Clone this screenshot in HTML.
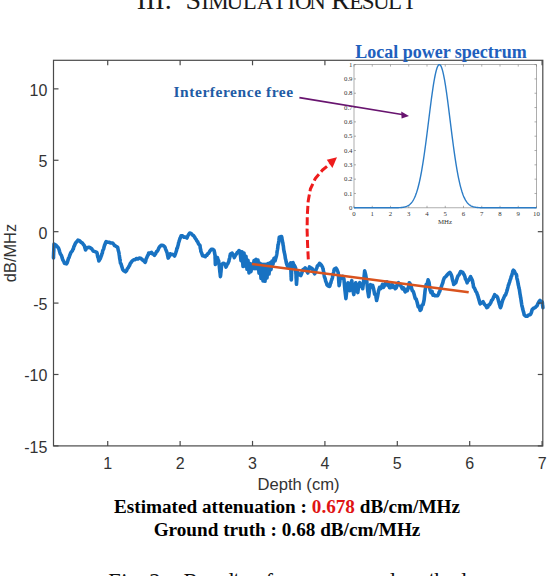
<!DOCTYPE html>
<html><head><meta charset="utf-8"><style>
html,body{margin:0;padding:0;background:#fff;}
body{width:556px;height:576px;position:relative;overflow:hidden;}
.t{position:absolute;white-space:nowrap;font-family:"Liberation Serif",serif;}
</style></head><body>

<svg width="556" height="576" style="position:absolute;left:0;top:0">
<path d="M53.5,258.0 L53.5,256.4 L53.6,254.7 L53.6,254.0 L53.7,251.8 L53.8,251.1 L53.8,249.4 L53.9,247.6 L53.9,246.8 L54.0,244.8 L54.0,244.0 L55.8,245.0 L56.8,246.1 L57.9,247.3 L58.5,248.1 L59.1,249.6 L59.6,251.5 L60.2,253.5 L60.8,254.5 L61.3,255.2 L61.8,256.6 L62.3,258.4 L62.9,260.1 L63.4,260.8 L63.9,261.8 L64.4,263.2 L66.5,263.9 L67.2,262.8 L68.0,260.3 L68.5,258.2 L69.0,257.9 L69.6,255.7 L70.1,254.5 L70.8,252.8 L71.6,251.6 L72.3,251.0 L72.8,249.5 L73.3,249.0 L73.8,246.9 L74.2,246.2 L74.7,245.1 L75.2,243.7 L76.1,242.3 L77.1,241.4 L78.0,240.1 L79.5,240.6 L81.0,242.3 L82.2,242.9 L83.3,244.3 L84.5,245.9 L84.8,247.5 L85.2,248.5 L85.5,250.0 L86.7,248.0 L88.8,247.3 L90.2,247.8 L91.7,248.8 L92.5,250.0 L93.2,251.0 L95.0,251.6 L96.8,252.4 L97.2,253.6 L97.5,255.7 L97.8,257.0 L98.2,257.8 L98.6,259.7 L98.9,261.0 L99.6,259.6 L100.3,258.7 L101.0,256.7 L101.4,255.7 L101.9,253.7 L102.3,253.3 L102.7,250.8 L103.1,249.9 L103.6,249.0 L104.0,247.3 L104.5,245.4 L105.0,244.4 L105.6,242.4 L106.1,241.6 L107.5,242.2 L109.0,242.3 L110.8,243.0 L112.6,243.0 L113.6,244.1 L114.5,245.5 L115.5,245.9 L117.6,247.3 L117.9,248.5 L118.3,250.5 L118.7,251.8 L119.0,253.1 L119.2,254.7 L119.4,255.9 L119.6,257.9 L119.9,259.5 L120.1,260.3 L120.3,262.0 L120.5,263.2 L121.1,264.0 L121.7,266.4 L122.2,267.7 L122.8,269.7 L123.4,270.4 L125.5,271.8 L126.5,270.8 L127.4,268.6 L128.4,267.5 L129.0,266.2 L129.6,265.4 L130.3,263.4 L130.9,262.8 L131.5,261.7 L132.7,260.5 L133.9,259.8 L135.1,259.6 L136.5,258.5 L138.0,259.0 L139.4,258.1 L140.6,258.3 L141.8,259.2 L143.0,260.3 L144.1,261.2 L145.1,262.4 L145.6,261.5 L146.1,258.9 L146.6,258.1 L147.1,256.8 L147.6,255.7 L148.2,254.9 L148.7,253.1 L150.1,253.2 L151.6,252.4 L152.6,253.9 L153.5,254.0 L154.5,255.3 L155.2,254.1 L155.9,253.1 L156.6,251.6 L157.4,251.1 L158.1,249.9 L158.8,248.0 L159.8,246.6 L160.7,245.7 L161.7,245.2 L163.1,245.5 L164.6,246.6 L165.1,247.5 L165.6,249.1 L166.2,250.5 L166.7,251.7 L167.0,252.6 L167.3,253.6 L167.6,255.4 L167.9,256.6 L168.2,258.1 L168.9,256.8 L169.6,255.9 L170.3,253.8 L171.8,254.4 L173.2,254.5 L174.6,256.0 L175.1,254.6 L175.6,253.3 L176.1,251.7 L176.5,250.7 L176.8,248.6 L177.2,248.5 L177.6,247.0 L177.9,245.9 L178.3,244.5 L178.6,242.7 L179.0,241.6 L179.5,240.0 L180.1,238.1 L180.6,237.4 L181.1,235.8 L182.6,235.9 L184.0,237.3 L185.4,237.0 L186.9,238.0 L187.6,236.3 L188.3,235.0 L189.0,234.0 L189.7,233.0 L191.1,233.4 L192.6,235.1 L193.6,235.6 L194.5,237.0 L195.5,238.7 L196.2,239.4 L196.9,241.0 L197.7,241.8 L198.4,243.7 L200.0,245.4 L200.2,247.4 L200.4,248.6 L200.7,249.5 L200.9,251.5 L201.5,252.6 L202.0,254.2 L202.6,255.8 L203.9,256.1 L205.2,256.7 L206.1,255.2 L206.9,255.2 L207.8,253.7 L208.7,253.3 L209.6,251.5 L210.4,250.4 L211.3,249.3 L212.6,249.2 L213.9,250.2 L214.3,251.2 L214.6,253.2 L215.0,255.0 L215.1,256.0 L215.1,258.2 L215.2,258.6 L215.2,259.8 L215.3,262.4 L215.3,263.2 L215.4,264.5 L215.8,262.6 L216.2,261.8 L216.6,259.7 L217.0,259.0 L217.4,257.6 L218.1,260.0 L218.7,261.0 L218.8,262.8 L219.0,263.9 L219.1,264.6 L219.3,266.0 L219.4,267.0 L219.6,269.2 L219.7,270.1 L219.8,271.8 L220.0,272.5 L220.1,273.6 L220.3,275.7 L220.4,276.6 L220.5,275.9 L220.7,274.4 L220.8,273.0 L221.0,271.7 L221.1,270.2 L221.3,268.2 L221.4,267.2 L221.6,265.6 L221.7,264.5 L223.0,263.4 L224.3,263.6 L225.2,264.7 L226.0,267.1 L226.7,265.5 L227.3,264.2 L227.9,263.5 L228.6,261.9 L228.9,261.2 L229.2,259.2 L229.5,258.6 L229.8,257.4 L230.1,256.0 L230.4,254.1 L232.1,253.2 L232.8,254.5 L233.6,255.7 L234.3,257.6 L235.0,256.1 L235.7,254.8 L236.4,254.1 L237.3,252.5 L238.1,251.9 L239.0,250.6 L240.0,251.3 L241.0,260.6 L242.0,251.8 L243.0,266.5 L244.0,253.0 L245.0,266.0 L246.0,256.4 L247.0,269.3 L248.0,260.4 L249.0,272.9 L250.0,263.5 L251.0,271.6 L252.0,264.0 L253.0,268.6 L254.0,260.6 L255.0,268.6 L256.0,259.2 L257.0,268.6 L258.0,260.1 L259.0,273.1 L260.0,263.2 L261.0,278.4 L262.0,264.4 L263.0,280.9 L264.0,264.4 L265.0,281.3 L266.0,264.4 L267.0,277.9 L268.0,263.6 L269.0,274.0 L270.0,262.8 L271.0,269.6 L272.0,261.0 L273.0,264.2 L274.0,258.2 L275.0,260.9 L276.4,256.0 L276.6,255.1 L276.9,253.5 L277.1,251.5 L277.4,250.0 L277.6,248.8 L277.8,247.6 L278.0,245.2 L278.2,244.6 L278.5,243.5 L278.7,241.9 L278.9,240.5 L279.1,238.7 L279.3,237.3 L281.5,236.5 L281.8,237.3 L282.1,239.5 L282.3,240.2 L282.6,242.1 L282.9,243.0 L283.1,245.1 L283.3,245.8 L283.5,247.3 L283.7,249.5 L283.9,250.4 L284.2,252.1 L284.4,252.8 L284.7,254.1 L285.0,255.6 L285.3,258.0 L285.6,259.3 L285.8,259.8 L286.1,261.7 L286.5,263.5 L287.0,265.0 L287.4,265.8 L287.8,266.9 L288.6,265.4 L289.5,264.3 L290.6,263.0 L290.7,264.4 L290.7,265.1 L290.8,266.2 L290.8,268.9 L290.9,269.7 L290.9,270.8 L291.0,272.7 L291.0,273.3 L291.1,275.2 L291.1,276.5 L291.2,276.9 L291.2,278.3 L291.3,279.9 L291.4,278.3 L291.4,276.9 L291.5,276.1 L291.5,274.4 L291.6,273.3 L291.6,271.6 L291.7,271.4 L291.7,269.3 L291.8,268.1 L291.8,267.0 L291.9,266.2 L291.9,264.2 L292.0,263.0 L293.0,262.6 L293.6,264.5 L294.3,265.2 L295.0,266.6 L295.6,268.0 L295.7,269.4 L295.8,270.7 L295.8,271.4 L295.9,273.3 L296.0,274.3 L296.1,275.5 L296.1,277.9 L296.2,278.4 L296.3,280.2 L296.4,281.9 L296.4,283.0 L296.5,284.3 L296.6,282.7 L296.7,281.6 L296.8,280.3 L296.9,279.2 L296.9,276.9 L297.0,276.2 L297.1,274.4 L297.2,273.1 L297.3,272.0 L298.2,273.0 L299.5,274.7 L300.8,275.6 L301.4,274.1 L301.9,272.6 L302.4,271.4 L303.0,269.5 L304.1,269.2 L305.2,267.8 L305.9,269.0 L306.5,270.6 L307.1,271.7 L307.8,273.0 L308.2,271.5 L308.6,270.2 L309.1,268.4 L309.5,266.9 L310.8,267.8 L312.1,268.6 L312.8,269.9 L313.4,271.8 L314.1,272.8 L314.7,273.8 L315.1,273.0 L315.6,271.8 L316.0,269.6 L316.4,268.7 L316.9,267.9 L317.3,266.0 L318.4,265.2 L319.5,263.4 L320.5,264.2 L321.6,265.5 L322.6,267.4 L322.9,268.6 L323.2,269.4 L323.4,270.9 L323.7,272.0 L324.0,274.1 L324.2,275.6 L324.5,277.1 L324.8,277.8 L325.2,278.7 L325.6,280.9 L326.1,282.2 L326.5,282.8 L326.9,284.7 L328.2,286.1 L329.5,286.4 L329.9,285.8 L330.4,283.4 L330.8,283.1 L331.2,281.1 L331.7,279.9 L332.1,278.6 L332.4,277.9 L332.7,276.4 L333.0,274.1 L333.4,273.1 L333.7,271.8 L334.0,270.2 L334.3,269.1 L336.1,268.2 L336.8,269.2 L337.5,270.9 L338.2,272.6 L338.3,274.2 L338.4,274.5 L338.5,276.6 L338.6,277.7 L338.6,278.4 L338.7,280.2 L338.8,281.9 L338.9,283.0 L339.0,283.7 L339.1,285.6 L339.3,284.8 L339.5,283.1 L339.8,281.9 L340.0,279.2 L340.2,278.0 L340.4,276.9 L341.0,276.8 L342.0,278.2 L342.9,276.3 L343.9,278.8 L344.9,289.8 L345.9,298.6 L346.9,289.8 L347.9,282.7 L348.9,288.0 L349.9,290.6 L350.9,283.6 L351.8,280.7 L352.8,289.6 L353.8,294.6 L354.8,287.6 L355.8,282.7 L356.8,288.5 L357.8,292.6 L358.8,285.6 L359.8,282.7 L360.8,286.2 L361.7,285.0 L362.7,288.7 L363.7,280.5 L364.7,270.8 L365.7,275.0 L366.7,280.7 L367.7,290.4 L368.7,296.6 L369.6,289.3 L370.6,284.7 L371.6,286.8 L372.6,285.3 L373.6,288.7 L374.6,294.3 L375.6,294.7 L376.6,300.5 L377.6,296.3 L378.6,290.6 L379.6,287.3 L380.5,288.8 L381.5,286.7 L382.5,284.4 L383.5,287.4 L384.5,285.7 L385.7,282.6 L386.9,281.8 L387.8,285.3 L388.6,283.6 L389.5,287.7 L390.5,287.8 L391.4,284.8 L392.4,284.7 L393.4,287.5 L394.4,286.3 L395.4,288.7 L396.4,287.5 L397.4,283.8 L398.4,282.7 L399.4,284.8 L400.3,284.4 L401.3,286.7 L402.3,288.8 L403.3,287.6 L404.3,289.7 L405.3,291.9 L406.3,289.3 L407.3,290.7 L408.3,288.1 L409.3,282.7 L410.2,283.8 L411.2,286.7 L412.2,290.5 L413.2,291.3 L414.2,294.6 L415.2,298.3 L416.2,299.2 L417.2,302.5 L418.2,306.9 L419.1,306.3 L420.1,310.4 L421.1,309.4 L422.1,305.1 L423.1,304.5 L424.1,300.0 L425.1,290.5 L426.1,284.7 L427.1,284.2 L428.1,279.8 L429.1,282.7 L430.0,289.8 L431.0,292.6 L432.0,291.3 L433.0,295.2 L434.0,294.6 L435.0,295.8 L436.3,295.8 L437.6,295.8 L438.1,294.8 L438.6,294.0 L439.2,291.9 L439.7,291.4 L440.2,289.7 L440.7,288.6 L441.2,287.1 L441.8,285.4 L442.3,284.0 L442.8,282.8 L443.2,280.9 L443.6,279.7 L444.1,278.3 L444.5,277.6 L445.8,276.6 L447.1,275.0 L448.5,273.4 L449.8,272.4 L450.5,273.4 L451.2,274.7 L451.9,276.7 L452.2,278.5 L452.5,279.8 L452.8,280.8 L453.1,281.6 L453.4,282.8 L453.7,284.5 L454.8,283.4 L455.8,282.8 L456.2,281.3 L456.7,279.5 L457.1,278.5 L457.6,276.9 L458.0,275.8 L458.9,275.0 L459.7,273.6 L460.6,271.5 L462.8,272.4 L463.5,273.9 L464.2,274.9 L464.9,276.7 L465.4,278.9 L466.0,279.5 L466.6,281.1 L467.1,282.8 L468.0,280.8 L468.8,280.2 L469.4,278.9 L470.0,277.8 L470.6,276.7 L471.5,278.5 L472.3,280.2 L472.6,281.2 L472.8,283.0 L473.1,283.6 L473.3,285.4 L473.6,287.1 L474.5,288.2 L475.4,290.4 L476.0,291.6 L476.7,292.5 L477.3,294.5 L477.7,295.2 L478.1,296.9 L478.5,298.1 L479.0,299.9 L479.4,301.2 L479.8,302.8 L480.2,303.8 L481.6,303.0 L483.1,301.7 L483.8,303.2 L484.6,304.6 L485.3,305.1 L486.1,306.2 L486.8,307.6 L487.7,307.2 L488.6,305.0 L489.5,304.7 L490.4,303.3 L491.0,302.3 L491.6,300.2 L492.2,300.1 L492.9,298.9 L493.5,297.3 L494.1,296.3 L494.7,294.7 L495.7,296.1 L496.6,296.1 L497.6,297.6 L498.0,298.9 L498.3,300.1 L498.7,301.8 L499.1,303.0 L499.4,304.3 L499.8,305.2 L500.1,306.9 L500.5,307.6 L501.0,306.4 L501.4,305.0 L501.9,302.9 L502.4,301.2 L502.8,299.9 L503.3,299.0 L504.0,297.4 L504.8,295.5 L505.5,295.1 L506.2,293.2 L506.6,292.0 L506.9,290.9 L507.3,289.6 L507.6,288.5 L508.0,286.9 L508.4,285.0 L508.7,284.9 L509.1,283.2 L509.5,282.3 L509.9,280.7 L510.3,279.5 L510.8,278.5 L511.2,276.4 L511.6,276.1 L512.0,274.5 L512.5,272.7 L512.9,271.0 L513.4,270.2 L514.4,271.3 L515.3,273.4 L516.3,274.5 L516.6,275.4 L516.8,277.5 L517.1,279.1 L517.4,279.7 L517.6,280.9 L517.9,282.3 L518.1,283.9 L518.4,285.3 L518.7,286.4 L518.9,287.8 L519.2,288.9 L519.4,289.6 L519.6,291.1 L519.8,292.5 L520.1,294.6 L520.3,295.3 L520.5,297.0 L520.7,297.5 L520.9,298.9 L521.1,300.6 L521.4,302.4 L521.6,303.8 L521.8,305.1 L522.0,306.2 L522.4,307.3 L522.7,309.1 L523.1,310.5 L523.5,311.9 L523.8,312.8 L524.2,314.8 L525.7,316.1 L527.1,316.3 L528.5,315.1 L530.0,314.8 L530.7,314.0 L531.4,312.5 L532.1,309.8 L532.8,309.0 L534.0,308.0 L535.2,307.6 L536.4,306.2 L537.1,305.7 L537.8,303.8 L538.6,302.4 L539.3,301.2 L540.0,300.4 L541.1,301.8 L542.2,301.9 L542.4,302.9 L542.5,304.9 L542.7,305.7 L542.9,307.6" fill="none" stroke="#1872c2" stroke-width="3.6" stroke-linejoin="round" stroke-linecap="round"/>
<line x1="251.9" y1="264" x2="468.7" y2="292.3" stroke="#d9531e" stroke-width="2.6"/>
<rect x="53.5" y="60.3" width="489.29999999999995" height="385.59999999999997" fill="none" stroke="#4a4a4a" stroke-width="1.2"/>
<line x1="107.72" y1="445.9" x2="107.72" y2="440.9" stroke="#4a4a4a" stroke-width="1.2"/>
<line x1="107.72" y1="60.3" x2="107.72" y2="65.3" stroke="#4a4a4a" stroke-width="1.2"/>
<line x1="180.12" y1="445.9" x2="180.12" y2="440.9" stroke="#4a4a4a" stroke-width="1.2"/>
<line x1="180.12" y1="60.3" x2="180.12" y2="65.3" stroke="#4a4a4a" stroke-width="1.2"/>
<line x1="252.52" y1="445.9" x2="252.52" y2="440.9" stroke="#4a4a4a" stroke-width="1.2"/>
<line x1="252.52" y1="60.3" x2="252.52" y2="65.3" stroke="#4a4a4a" stroke-width="1.2"/>
<line x1="324.91" y1="445.9" x2="324.91" y2="440.9" stroke="#4a4a4a" stroke-width="1.2"/>
<line x1="324.91" y1="60.3" x2="324.91" y2="65.3" stroke="#4a4a4a" stroke-width="1.2"/>
<line x1="397.31" y1="445.9" x2="397.31" y2="440.9" stroke="#4a4a4a" stroke-width="1.2"/>
<line x1="469.70" y1="445.9" x2="469.70" y2="440.9" stroke="#4a4a4a" stroke-width="1.2"/>
<line x1="542.10" y1="445.9" x2="542.10" y2="440.9" stroke="#4a4a4a" stroke-width="1.2"/>
<line x1="542.10" y1="60.3" x2="542.10" y2="65.3" stroke="#4a4a4a" stroke-width="1.2"/>
<line x1="53.5" y1="445.90" x2="58.5" y2="445.90" stroke="#4a4a4a" stroke-width="1.2"/>
<line x1="542.8" y1="445.90" x2="537.8" y2="445.90" stroke="#4a4a4a" stroke-width="1.2"/>
<line x1="53.5" y1="374.49" x2="58.5" y2="374.49" stroke="#4a4a4a" stroke-width="1.2"/>
<line x1="542.8" y1="374.49" x2="537.8" y2="374.49" stroke="#4a4a4a" stroke-width="1.2"/>
<line x1="53.5" y1="303.09" x2="58.5" y2="303.09" stroke="#4a4a4a" stroke-width="1.2"/>
<line x1="542.8" y1="303.09" x2="537.8" y2="303.09" stroke="#4a4a4a" stroke-width="1.2"/>
<line x1="53.5" y1="231.68" x2="58.5" y2="231.68" stroke="#4a4a4a" stroke-width="1.2"/>
<line x1="542.8" y1="231.68" x2="537.8" y2="231.68" stroke="#4a4a4a" stroke-width="1.2"/>
<line x1="53.5" y1="160.27" x2="58.5" y2="160.27" stroke="#4a4a4a" stroke-width="1.2"/>
<line x1="53.5" y1="88.86" x2="58.5" y2="88.86" stroke="#4a4a4a" stroke-width="1.2"/>
<text x="107.72" y="468.5" font-family="Liberation Sans, sans-serif" font-size="16" fill="#333" text-anchor="middle">1</text>
<text x="180.12" y="468.5" font-family="Liberation Sans, sans-serif" font-size="16" fill="#333" text-anchor="middle">2</text>
<text x="252.52" y="468.5" font-family="Liberation Sans, sans-serif" font-size="16" fill="#333" text-anchor="middle">3</text>
<text x="324.91" y="468.5" font-family="Liberation Sans, sans-serif" font-size="16" fill="#333" text-anchor="middle">4</text>
<text x="397.31" y="468.5" font-family="Liberation Sans, sans-serif" font-size="16" fill="#333" text-anchor="middle">5</text>
<text x="469.70" y="468.5" font-family="Liberation Sans, sans-serif" font-size="16" fill="#333" text-anchor="middle">6</text>
<text x="542.10" y="468.5" font-family="Liberation Sans, sans-serif" font-size="16" fill="#333" text-anchor="middle">7</text>
<text x="47.4" y="452.90" font-family="Liberation Sans, sans-serif" font-size="16" fill="#333" text-anchor="end">-15</text>
<text x="47.4" y="381.49" font-family="Liberation Sans, sans-serif" font-size="16" fill="#333" text-anchor="end">-10</text>
<text x="47.4" y="310.09" font-family="Liberation Sans, sans-serif" font-size="16" fill="#333" text-anchor="end">-5</text>
<text x="47.4" y="238.68" font-family="Liberation Sans, sans-serif" font-size="16" fill="#333" text-anchor="end">0</text>
<text x="47.4" y="167.27" font-family="Liberation Sans, sans-serif" font-size="16" fill="#333" text-anchor="end">5</text>
<text x="47.4" y="95.86" font-family="Liberation Sans, sans-serif" font-size="16" fill="#333" text-anchor="end">10</text>
<text x="298.5" y="489.8" font-family="Liberation Sans, sans-serif" font-size="16.6" fill="#333" text-anchor="middle">Depth (cm)</text>
<text transform="translate(15.6,253) rotate(-90)" x="0" y="0" font-family="Liberation Sans, sans-serif" font-size="16.4" fill="#333" text-anchor="middle">dB/MHz</text>
<rect x="354.0" y="64.6" width="182.5" height="143.20000000000002" fill="#fff" stroke="#9a9a9a" stroke-width="0.8"/>
<line x1="354.00" y1="207.8" x2="354.00" y2="205.8" stroke="#777" stroke-width="0.6"/>
<line x1="354.00" y1="64.6" x2="354.00" y2="66.6" stroke="#777" stroke-width="0.6"/>
<text x="354.00" y="216.4" font-family="Liberation Serif, serif" font-size="6.8" fill="#333" text-anchor="middle">0</text>
<line x1="372.25" y1="207.8" x2="372.25" y2="205.8" stroke="#777" stroke-width="0.6"/>
<line x1="372.25" y1="64.6" x2="372.25" y2="66.6" stroke="#777" stroke-width="0.6"/>
<text x="372.25" y="216.4" font-family="Liberation Serif, serif" font-size="6.8" fill="#333" text-anchor="middle">1</text>
<line x1="390.50" y1="207.8" x2="390.50" y2="205.8" stroke="#777" stroke-width="0.6"/>
<line x1="390.50" y1="64.6" x2="390.50" y2="66.6" stroke="#777" stroke-width="0.6"/>
<text x="390.50" y="216.4" font-family="Liberation Serif, serif" font-size="6.8" fill="#333" text-anchor="middle">2</text>
<line x1="408.75" y1="207.8" x2="408.75" y2="205.8" stroke="#777" stroke-width="0.6"/>
<line x1="408.75" y1="64.6" x2="408.75" y2="66.6" stroke="#777" stroke-width="0.6"/>
<text x="408.75" y="216.4" font-family="Liberation Serif, serif" font-size="6.8" fill="#333" text-anchor="middle">3</text>
<line x1="427.00" y1="207.8" x2="427.00" y2="205.8" stroke="#777" stroke-width="0.6"/>
<line x1="427.00" y1="64.6" x2="427.00" y2="66.6" stroke="#777" stroke-width="0.6"/>
<text x="427.00" y="216.4" font-family="Liberation Serif, serif" font-size="6.8" fill="#333" text-anchor="middle">4</text>
<line x1="445.25" y1="207.8" x2="445.25" y2="205.8" stroke="#777" stroke-width="0.6"/>
<line x1="445.25" y1="64.6" x2="445.25" y2="66.6" stroke="#777" stroke-width="0.6"/>
<text x="445.25" y="216.4" font-family="Liberation Serif, serif" font-size="6.8" fill="#333" text-anchor="middle">5</text>
<line x1="463.50" y1="207.8" x2="463.50" y2="205.8" stroke="#777" stroke-width="0.6"/>
<line x1="463.50" y1="64.6" x2="463.50" y2="66.6" stroke="#777" stroke-width="0.6"/>
<text x="463.50" y="216.4" font-family="Liberation Serif, serif" font-size="6.8" fill="#333" text-anchor="middle">6</text>
<line x1="481.75" y1="207.8" x2="481.75" y2="205.8" stroke="#777" stroke-width="0.6"/>
<line x1="481.75" y1="64.6" x2="481.75" y2="66.6" stroke="#777" stroke-width="0.6"/>
<text x="481.75" y="216.4" font-family="Liberation Serif, serif" font-size="6.8" fill="#333" text-anchor="middle">7</text>
<line x1="500.00" y1="207.8" x2="500.00" y2="205.8" stroke="#777" stroke-width="0.6"/>
<line x1="500.00" y1="64.6" x2="500.00" y2="66.6" stroke="#777" stroke-width="0.6"/>
<text x="500.00" y="216.4" font-family="Liberation Serif, serif" font-size="6.8" fill="#333" text-anchor="middle">8</text>
<line x1="518.25" y1="207.8" x2="518.25" y2="205.8" stroke="#777" stroke-width="0.6"/>
<line x1="518.25" y1="64.6" x2="518.25" y2="66.6" stroke="#777" stroke-width="0.6"/>
<text x="518.25" y="216.4" font-family="Liberation Serif, serif" font-size="6.8" fill="#333" text-anchor="middle">9</text>
<line x1="536.50" y1="207.8" x2="536.50" y2="205.8" stroke="#777" stroke-width="0.6"/>
<line x1="536.50" y1="64.6" x2="536.50" y2="66.6" stroke="#777" stroke-width="0.6"/>
<text x="536.50" y="216.4" font-family="Liberation Serif, serif" font-size="6.8" fill="#333" text-anchor="middle">10</text>
<line x1="354.0" y1="207.80" x2="356.0" y2="207.80" stroke="#777" stroke-width="0.6"/>
<line x1="536.5" y1="207.80" x2="534.5" y2="207.80" stroke="#777" stroke-width="0.6"/>
<text x="352.5" y="210.00" font-family="Liberation Serif, serif" font-size="6.8" fill="#333" text-anchor="end">0</text>
<line x1="354.0" y1="193.48" x2="356.0" y2="193.48" stroke="#777" stroke-width="0.6"/>
<line x1="536.5" y1="193.48" x2="534.5" y2="193.48" stroke="#777" stroke-width="0.6"/>
<text x="352.5" y="195.68" font-family="Liberation Serif, serif" font-size="6.8" fill="#333" text-anchor="end">0.1</text>
<line x1="354.0" y1="179.16" x2="356.0" y2="179.16" stroke="#777" stroke-width="0.6"/>
<line x1="536.5" y1="179.16" x2="534.5" y2="179.16" stroke="#777" stroke-width="0.6"/>
<text x="352.5" y="181.36" font-family="Liberation Serif, serif" font-size="6.8" fill="#333" text-anchor="end">0.2</text>
<line x1="354.0" y1="164.84" x2="356.0" y2="164.84" stroke="#777" stroke-width="0.6"/>
<line x1="536.5" y1="164.84" x2="534.5" y2="164.84" stroke="#777" stroke-width="0.6"/>
<text x="352.5" y="167.04" font-family="Liberation Serif, serif" font-size="6.8" fill="#333" text-anchor="end">0.3</text>
<line x1="354.0" y1="150.52" x2="356.0" y2="150.52" stroke="#777" stroke-width="0.6"/>
<line x1="536.5" y1="150.52" x2="534.5" y2="150.52" stroke="#777" stroke-width="0.6"/>
<text x="352.5" y="152.72" font-family="Liberation Serif, serif" font-size="6.8" fill="#333" text-anchor="end">0.4</text>
<line x1="354.0" y1="136.20" x2="356.0" y2="136.20" stroke="#777" stroke-width="0.6"/>
<line x1="536.5" y1="136.20" x2="534.5" y2="136.20" stroke="#777" stroke-width="0.6"/>
<text x="352.5" y="138.40" font-family="Liberation Serif, serif" font-size="6.8" fill="#333" text-anchor="end">0.5</text>
<line x1="354.0" y1="121.88" x2="356.0" y2="121.88" stroke="#777" stroke-width="0.6"/>
<line x1="536.5" y1="121.88" x2="534.5" y2="121.88" stroke="#777" stroke-width="0.6"/>
<text x="352.5" y="124.08" font-family="Liberation Serif, serif" font-size="6.8" fill="#333" text-anchor="end">0.6</text>
<line x1="354.0" y1="107.56" x2="356.0" y2="107.56" stroke="#777" stroke-width="0.6"/>
<line x1="536.5" y1="107.56" x2="534.5" y2="107.56" stroke="#777" stroke-width="0.6"/>
<text x="352.5" y="109.76" font-family="Liberation Serif, serif" font-size="6.8" fill="#333" text-anchor="end">0.7</text>
<line x1="354.0" y1="93.24" x2="356.0" y2="93.24" stroke="#777" stroke-width="0.6"/>
<line x1="536.5" y1="93.24" x2="534.5" y2="93.24" stroke="#777" stroke-width="0.6"/>
<text x="352.5" y="95.44" font-family="Liberation Serif, serif" font-size="6.8" fill="#333" text-anchor="end">0.8</text>
<line x1="354.0" y1="78.92" x2="356.0" y2="78.92" stroke="#777" stroke-width="0.6"/>
<line x1="536.5" y1="78.92" x2="534.5" y2="78.92" stroke="#777" stroke-width="0.6"/>
<text x="352.5" y="81.12" font-family="Liberation Serif, serif" font-size="6.8" fill="#333" text-anchor="end">0.9</text>
<line x1="354.0" y1="64.60" x2="356.0" y2="64.60" stroke="#777" stroke-width="0.6"/>
<line x1="536.5" y1="64.60" x2="534.5" y2="64.60" stroke="#777" stroke-width="0.6"/>
<text x="352.5" y="66.80" font-family="Liberation Serif, serif" font-size="6.8" fill="#333" text-anchor="end">1</text>
<text x="445" y="224" font-family="Liberation Serif, serif" font-size="6.8" fill="#333" text-anchor="middle">MHz</text>
<path d="M354.00,207.80 L354.50,207.80 L355.00,207.80 L355.50,207.80 L356.00,207.80 L356.50,207.80 L357.00,207.80 L357.50,207.80 L358.00,207.80 L358.50,207.80 L359.00,207.80 L359.50,207.80 L360.00,207.80 L360.50,207.80 L361.00,207.80 L361.50,207.80 L362.00,207.80 L362.50,207.80 L363.00,207.80 L363.50,207.80 L364.00,207.80 L364.50,207.80 L365.00,207.80 L365.50,207.80 L366.00,207.80 L366.50,207.80 L367.00,207.80 L367.50,207.80 L368.00,207.80 L368.50,207.80 L369.00,207.80 L369.50,207.80 L370.00,207.80 L370.50,207.80 L371.00,207.80 L371.50,207.80 L372.00,207.80 L372.50,207.80 L373.00,207.80 L373.50,207.80 L374.00,207.80 L374.50,207.80 L375.00,207.80 L375.50,207.80 L376.00,207.80 L376.50,207.80 L377.00,207.80 L377.50,207.80 L378.00,207.80 L378.50,207.80 L379.00,207.80 L379.50,207.80 L380.00,207.80 L380.50,207.80 L381.00,207.80 L381.50,207.80 L382.00,207.80 L382.50,207.80 L383.00,207.80 L383.50,207.80 L384.00,207.80 L384.50,207.80 L385.00,207.80 L385.50,207.80 L386.00,207.80 L386.50,207.80 L387.00,207.80 L387.50,207.80 L388.00,207.80 L388.50,207.80 L389.00,207.80 L389.50,207.80 L390.00,207.80 L390.50,207.79 L391.00,207.79 L391.50,207.79 L392.00,207.79 L392.50,207.79 L393.00,207.79 L393.50,207.78 L394.00,207.78 L394.50,207.77 L395.00,207.77 L395.50,207.76 L396.00,207.76 L396.50,207.75 L397.00,207.74 L397.50,207.72 L398.00,207.71 L398.50,207.69 L399.00,207.67 L399.50,207.64 L400.00,207.62 L400.50,207.58 L401.00,207.54 L401.50,207.50 L402.00,207.44 L402.50,207.38 L403.00,207.31 L403.50,207.23 L404.00,207.13 L404.50,207.03 L405.00,206.90 L405.50,206.76 L406.00,206.60 L406.50,206.42 L407.00,206.21 L407.50,205.97 L408.00,205.71 L408.50,205.41 L409.00,205.07 L409.50,204.70 L410.00,204.28 L410.50,203.81 L411.00,203.29 L411.50,202.71 L412.00,202.07 L412.50,201.36 L413.00,200.58 L413.50,199.73 L414.00,198.79 L414.50,197.76 L415.00,196.64 L415.50,195.43 L416.00,194.11 L416.50,192.68 L417.00,191.13 L417.50,189.47 L418.00,187.69 L418.50,185.78 L419.00,183.75 L419.50,181.58 L420.00,179.27 L420.50,176.83 L421.00,174.25 L421.50,171.54 L422.00,168.69 L422.50,165.71 L423.00,162.59 L423.50,159.35 L424.00,155.99 L424.50,152.51 L425.00,148.93 L425.50,145.25 L426.00,141.48 L426.50,137.63 L427.00,133.72 L427.50,129.76 L428.00,125.77 L428.50,121.75 L429.00,117.73 L429.50,113.72 L430.00,109.75 L430.50,105.83 L431.00,101.98 L431.50,98.21 L432.00,94.56 L432.50,91.04 L433.00,87.66 L433.50,84.45 L434.00,81.43 L434.50,78.61 L435.00,76.00 L435.50,73.64 L436.00,71.52 L436.50,69.67 L437.00,68.09 L437.50,66.80 L438.00,65.80 L438.50,65.10 L439.00,64.70 L439.50,64.61 L440.00,64.82 L440.50,65.34 L441.00,66.16 L441.50,67.28 L442.00,68.69 L442.50,70.38 L443.00,72.34 L443.50,74.56 L444.00,77.02 L444.50,79.71 L445.00,82.61 L445.50,85.71 L446.00,88.99 L446.50,92.43 L447.00,96.01 L447.50,99.71 L448.00,103.51 L448.50,107.39 L449.00,111.33 L449.50,115.32 L450.00,119.34 L450.50,123.36 L451.00,127.37 L451.50,131.35 L452.00,135.29 L452.50,139.18 L453.00,143.00 L453.50,146.73 L454.00,150.37 L454.50,153.92 L455.00,157.35 L455.50,160.66 L456.00,163.85 L456.50,166.91 L457.00,169.85 L457.50,172.64 L458.00,175.30 L458.50,177.82 L459.00,180.21 L459.50,182.46 L460.00,184.58 L460.50,186.56 L461.00,188.42 L461.50,190.15 L462.00,191.77 L462.50,193.26 L463.00,194.65 L463.50,195.92 L464.00,197.10 L464.50,198.18 L465.00,199.17 L465.50,200.08 L466.00,200.90 L466.50,201.65 L467.00,202.33 L467.50,202.95 L468.00,203.50 L468.50,204.00 L469.00,204.45 L469.50,204.85 L470.00,205.21 L470.50,205.53 L471.00,205.82 L471.50,206.07 L472.00,206.30 L472.50,206.49 L473.00,206.67 L473.50,206.82 L474.00,206.95 L474.50,207.07 L475.00,207.17 L475.50,207.26 L476.00,207.34 L476.50,207.41 L477.00,207.47 L477.50,207.52 L478.00,207.56 L478.50,207.60 L479.00,207.63 L479.50,207.65 L480.00,207.68 L480.50,207.70 L481.00,207.71 L481.50,207.73 L482.00,207.74 L482.50,207.75 L483.00,207.76 L483.50,207.77 L484.00,207.77 L484.50,207.78 L485.00,207.78 L485.50,207.78 L486.00,207.79 L486.50,207.79 L487.00,207.79 L487.50,207.79 L488.00,207.79 L488.50,207.80 L489.00,207.80 L489.50,207.80 L490.00,207.80 L490.50,207.80 L491.00,207.80 L491.50,207.80 L492.00,207.80 L492.50,207.80 L493.00,207.80 L493.50,207.80 L494.00,207.80 L494.50,207.80 L495.00,207.80 L495.50,207.80 L496.00,207.80 L496.50,207.80 L497.00,207.80 L497.50,207.80 L498.00,207.80 L498.50,207.80 L499.00,207.80 L499.50,207.80 L500.00,207.80 L500.50,207.80 L501.00,207.80 L501.50,207.80 L502.00,207.80 L502.50,207.80 L503.00,207.80 L503.50,207.80 L504.00,207.80 L504.50,207.80 L505.00,207.80 L505.50,207.80 L506.00,207.80 L506.50,207.80 L507.00,207.80 L507.50,207.80 L508.00,207.80 L508.50,207.80 L509.00,207.80 L509.50,207.80 L510.00,207.80 L510.50,207.80 L511.00,207.80 L511.50,207.80 L512.00,207.80 L512.50,207.80 L513.00,207.80 L513.50,207.80 L514.00,207.80 L514.50,207.80 L515.00,207.80 L515.50,207.80 L516.00,207.80 L516.50,207.80 L517.00,207.80 L517.50,207.80 L518.00,207.80 L518.50,207.80 L519.00,207.80 L519.50,207.80 L520.00,207.80 L520.50,207.80 L521.00,207.80 L521.50,207.80 L522.00,207.80 L522.50,207.80 L523.00,207.80 L523.50,207.80 L524.00,207.80 L524.50,207.80 L525.00,207.80 L525.50,207.80 L526.00,207.80 L526.50,207.80 L527.00,207.80 L527.50,207.80 L528.00,207.80 L528.50,207.80 L529.00,207.80 L529.50,207.80 L530.00,207.80 L530.50,207.80 L531.00,207.80 L531.50,207.80 L532.00,207.80 L532.50,207.80 L533.00,207.80 L533.50,207.80 L534.00,207.80 L534.50,207.80 L535.00,207.80 L535.50,207.80 L536.00,207.80 L536.50,207.80" fill="none" stroke="#2b7cc6" stroke-width="1.4"/>
<text x="441" y="58.1" font-family="Liberation Serif, serif" font-size="18" font-weight="bold" fill="#2160bd" text-anchor="middle">Local power spectrum</text>
<text x="173.5" y="97.2" font-family="Liberation Serif, serif" font-size="15.5" font-weight="bold" fill="#1f5ca5" letter-spacing="0.55">Interference free</text>
<line x1="299.4" y1="97.6" x2="402" y2="114.5" stroke="#68146f" stroke-width="1.6"/>
<polygon points="409,115.9 401.2,111.4 401.6,118.6" fill="#68146f"/>
<path d="M308.3,259.4 L307.6,245 L307.1,230 L307.3,215 L308.2,201 L310.4,189 L315.3,178.5 L322.5,170 L330,163.8" fill="none" stroke="#ee1c1c" stroke-width="3" stroke-dasharray="8,3.4" stroke-linejoin="round"/>
<polygon points="337,157.3 326.8,159.8 332.4,168" fill="#ee1c1c"/>
<text x="108.3" y="588.5" font-family="Liberation Serif, serif" font-size="22.4" fill="#111">F</text>
<text x="121.2" y="588.5" font-family="Liberation Serif, serif" font-size="22.4" fill="#111">i</text>
<text x="149.2" y="588.5" font-family="Liberation Serif, serif" font-size="22.4" fill="#111">2</text>
<text x="183.4" y="588.5" font-family="Liberation Serif, serif" font-size="22.4" fill="#111">R</text>
<text x="228.5" y="588.5" font-family="Liberation Serif, serif" font-size="22.4" fill="#111">l</text>
<text x="233.5" y="587.3" font-family="Liberation Serif, serif" font-size="22.4" fill="#111">t</text>
<text x="265.6" y="588.5" font-family="Liberation Serif, serif" font-size="22.4" fill="#111">f</text>
<text x="384.2" y="588.5" font-family="Liberation Serif, serif" font-size="22.4" fill="#111">d</text>
<text x="428.8" y="587.3" font-family="Liberation Serif, serif" font-size="22.4" fill="#111">t</text>
<text x="434.3" y="588.5" font-family="Liberation Serif, serif" font-size="22.4" fill="#111">h</text>
<text x="455.4" y="588.5" font-family="Liberation Serif, serif" font-size="22.4" fill="#111">d</text>
<text x="136.7" y="9.0" font-family="Liberation Serif, serif" font-size="28" fill="#1a1a1a">III.</text>
<text x="185.45" y="9.0" font-family="Liberation Serif, serif" font-size="28" fill="#1a1a1a">S</text>
<text x="201.16" y="9.0" font-family="Liberation Serif, serif" font-size="23" fill="#1a1a1a">I</text>
<text x="208.28" y="9.0" font-family="Liberation Serif, serif" font-size="23" fill="#1a1a1a">M</text>
<text x="226.60" y="9.0" font-family="Liberation Serif, serif" font-size="23" fill="#1a1a1a">U</text>
<text x="242.63" y="9.0" font-family="Liberation Serif, serif" font-size="23" fill="#1a1a1a">L</text>
<text x="256.66" y="9.0" font-family="Liberation Serif, serif" font-size="23" fill="#1a1a1a">A</text>
<text x="272.46" y="9.0" font-family="Liberation Serif, serif" font-size="23" fill="#1a1a1a">T</text>
<text x="287.46" y="9.0" font-family="Liberation Serif, serif" font-size="23" fill="#1a1a1a">I</text>
<text x="295.00" y="9.0" font-family="Liberation Serif, serif" font-size="23" fill="#1a1a1a">O</text>
<text x="309.13" y="9.0" font-family="Liberation Serif, serif" font-size="23" fill="#1a1a1a">N</text>
<text x="331.07" y="9.0" font-family="Liberation Serif, serif" font-size="28" fill="#1a1a1a">R</text>
<text x="349.21" y="9.0" font-family="Liberation Serif, serif" font-size="23" fill="#1a1a1a">E</text>
<text x="361.75" y="9.0" font-family="Liberation Serif, serif" font-size="23" fill="#1a1a1a">S</text>
<text x="372.90" y="9.0" font-family="Liberation Serif, serif" font-size="23" fill="#1a1a1a">U</text>
<text x="387.93" y="9.0" font-family="Liberation Serif, serif" font-size="23" fill="#1a1a1a">L</text>
<text x="402.46" y="9.0" font-family="Liberation Serif, serif" font-size="23" fill="#1a1a1a">T</text>
</svg>
<div class="t" id="l1" style="left:0;width:574px;text-align:center;top:495.5px;font-size:19.2px;line-height:22px;font-weight:bold;color:#000;">Estimated attenuation : <span style="color:#e01414">0.678</span> dB/cm/MHz</div>
<div class="t" id="l2" style="left:0;width:574px;text-align:center;top:519px;font-size:19.2px;line-height:22px;font-weight:bold;color:#000;">Ground truth : 0.68 dB/cm/MHz</div>

</body></html>
